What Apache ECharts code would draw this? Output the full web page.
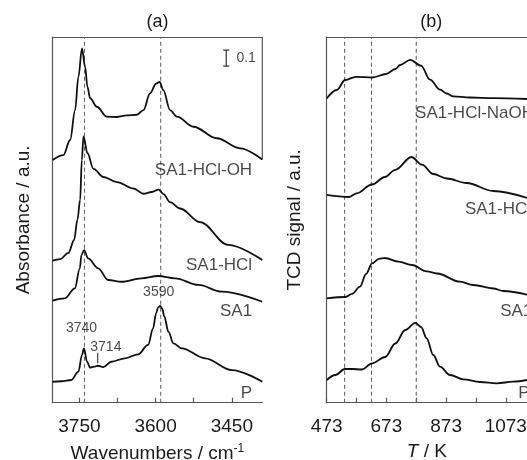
<!DOCTYPE html>
<html>
<head>
<meta charset="utf-8">
<script src="https://cdn.jsdelivr.net/npm/echarts@6/dist/echarts.min.js"></script>
<style>
html, body { margin: 0; padding: 0; background: #fff; }
#chart { width: 527px; height: 460px; }
</style>
</head>
<body>
<div id="chart"></div>
<script>
// ---------- (a) IR spectra: [wavenumber / cm-1, absorbance incl. vertical offset] ----------
const irSA1HClOH = [
  [3803, 1.517], [3781.5, 1.548], [3768.3, 1.642], [3758.5, 1.829], [3752, 2.036],
  [3745, 2.214], [3738.8, 2.100], [3734.3, 1.975], [3728.9, 1.903], [3715.7, 1.850],
  [3696, 1.788], [3676, 1.786], [3657, 1.796], [3637, 1.800], [3624, 1.829],
  [3611, 1.934], [3599, 1.995], [3592, 2.006], [3585, 1.954], [3571.5, 1.829],
  [3558, 1.788], [3525.6, 1.725], [3479.5, 1.653], [3433.6, 1.590], [3390, 1.520]
];
const irSA1HCl = [
  [3803, 0.8875], [3788, 0.898], [3771.7, 0.936], [3760.4, 1.017], [3754, 1.142],
  [3748.6, 1.267], [3745.3, 1.517], [3742, 1.664], [3734.3, 1.561], [3722.4, 1.462],
  [3702.8, 1.411], [3676.4, 1.379], [3643.7, 1.339], [3624, 1.306], [3607.5, 1.317],
  [3594, 1.3325], [3584.6, 1.304], [3571.5, 1.254], [3551.8, 1.214], [3512.4, 1.129],
  [3457.3, 0.986], [3390, 0.892]
];
const irSA1 = [
  [3803, 0.6375], [3778.7, 0.6525], [3759, 0.715], [3749.2, 0.840], [3746, 0.923],
  [3740.7, 0.954], [3732.9, 0.9025], [3713.2, 0.840], [3693.5, 0.767], [3667.3, 0.756],
  [3628, 0.7775], [3595, 0.792], [3561.6, 0.7775], [3515.7, 0.736], [3469.7, 0.694],
  [3390, 0.631]
];
const irP = [
  [3803, 0.131], [3785, 0.134], [3766, 0.142], [3752, 0.194], [3745, 0.298],
  [3741, 0.340], [3735, 0.256], [3729, 0.219], [3721, 0.225], [3714, 0.231],
  [3703, 0.223], [3687, 0.256], [3660.6, 0.2775], [3634.4, 0.3025], [3614.8, 0.361],
  [3605, 0.465], [3599, 0.560], [3595, 0.596], [3591, 0.605], [3587, 0.588],
  [3583, 0.540], [3574.8, 0.444], [3565, 0.371], [3548.4, 0.340], [3502.6, 0.2775],
  [3450, 0.204], [3390, 0.131]
];
const irRange = [3390, 3803];
const irYMax = 2.286;
const irMajorTicks = [3750, 3600, 3450];
const irAllTicks = [3750, 3675, 3600, 3525, 3450];
const irMarkers = [3740, 3590];
const irLabelText = ['SA1-HCl-OH', 'SA1-HCl', 'SA1', 'P'];
const irLabelY = [1.45, 0.856, 0.569, 0.059];
const irLabelX = 3410;
const peakText = ['3740', '3714', '3590'];
const peakX = [3746, 3698, 3594];
const peakY = [0.465, 0.35, 0.694];
const band3714 = [[3714, 0.246], [3714, 0.3125]];
const scaleBarX = 3461;
const scaleBarTop = 2.204;
const scaleBarSize = 0.1;

// ---------- (b) TPD profiles: [T / K, TCD signal incl. vertical offset] ----------
const tpdSA1HClNaOH = [
  [473, 8.318], [506.5, 8.551], [535, 8.824], [571, 8.912], [626, 8.893],
  [672, 8.988], [703, 9.125], [719, 9.234], [753, 9.377], [789, 9.215],
  [819, 8.832], [853, 8.559], [875, 8.455], [897, 8.378], [953, 8.346],
  [1031, 8.327], [1144, 8.305]
];
const tpdSA1HCl = [
  [473, 5.680], [546.7, 5.625], [573.5, 5.726], [624.8, 5.967], [668, 6.172],
  [702.8, 6.369], [757, 6.719], [792, 6.508], [830, 6.254], [875, 6.131],
  [942, 6.008], [1031, 5.789], [1144, 5.600]
];
const tpdSA1 = [
  [473, 2.855], [535, 2.890], [558, 2.978], [584.6, 3.172], [604.7, 3.519],
  [625, 3.812], [648, 3.935], [668, 3.957], [714, 3.856], [759, 3.765],
  [808, 3.593], [842.5, 3.533], [919.6, 3.309], [964, 3.219], [1031, 3.123],
  [1065, 3.054], [1144, 2.955]
];
const tpdP = [
  [473, 0.621], [502, 0.757], [534, 0.922], [558, 0.922], [591, 0.908],
  [625, 1.077], [669, 1.250], [703, 1.619], [736, 1.988], [770, 2.185],
  [789, 2.070], [808, 1.761], [830, 1.304], [852.6, 0.984], [886, 0.757],
  [930.6, 0.640], [986.6, 0.566], [1042.5, 0.530], [1098, 0.574], [1144, 0.621]
];
const tpdRange = [473, 1144];
const tpdYMax = 10;
const tpdMajorTicks = [473, 673, 873, 1073];
const tpdAllTicks = [473, 573, 673, 773, 873, 973, 1073];
const tpdMarkers = [533, 623, 773];
const tpdLabelText = ['SA1-HCl-NaOH', 'SA1-HCl', 'SA1', 'P'];
const tpdLabelX = [769, 936, 1054, 1115];
const tpdLabelY = [7.922, 5.278, 2.488, 0.257];

// ---------- styling ----------
const FONT = 'Liberation Sans, Arial, Helvetica, sans-serif';
const FRAME = '#555';
const INK = '#111';
const TEXT = '#1a1a1a';
const AXIS_FS = 19;
const LABEL_FS = 17;

function curve(data, gi) {
  return {
    type: 'line', xAxisIndex: gi * 2, yAxisIndex: gi, data: data,
    showSymbol: false, smooth: 0.35, smoothMonotone: 'x',
    lineStyle: { color: INK, width: 1.8 }, z: 5, silent: true
  };
}
function marker(x, gi, ymax) {
  return {
    type: 'line', xAxisIndex: gi * 2, yAxisIndex: gi,
    data: [[x, 0], [x, ymax]], showSymbol: false,
    lineStyle: { color: '#666', width: 1.1, type: [4, 3] }, z: 2, silent: true
  };
}
function texts(xs, ys, strs, gi, align, size) {
  return {
    type: 'scatter', xAxisIndex: gi * 2, yAxisIndex: gi, symbolSize: 0, silent: true, z: 6,
    clip: false,
    data: strs.map((s, i) => ({
      value: [Array.isArray(xs) ? xs[i] : xs, ys[i]],
      label: { formatter: s }
    })),
    label: {
      show: true, position: 'inside', align: align, verticalAlign: 'middle',
      fontFamily: FONT, fontSize: size, color: TEXT
    }
  };
}
function bottomAxis(gi, range, inverse, ticks, labels, name, nameRich) {
  return {
    type: 'value', gridIndex: gi, position: 'bottom', min: range[0], max: range[1], inverse: inverse,
    axisLine: { show: true, onZero: false, lineStyle: { color: FRAME, width: 1.2 } },
    axisTick: { show: true, inside: true, length: 5, customValues: ticks, lineStyle: { color: FRAME, width: 1.2 } },
    axisLabel: { customValues: labels, formatter: v => String(v), fontFamily: FONT, fontSize: AXIS_FS, color: TEXT, margin: 15 },
    splitLine: { show: false },
    name: name, nameLocation: 'middle', nameGap: 40,
    nameTextStyle: { fontFamily: FONT, fontSize: AXIS_FS, color: TEXT, rich: nameRich }
  };
}
function topAxis(gi, range, inverse) {
  return {
    type: 'value', gridIndex: gi, position: 'top', min: range[0], max: range[1], inverse: inverse,
    axisLine: { show: true, onZero: false, lineStyle: { color: FRAME, width: 1.2 } },
    axisTick: { show: false }, axisLabel: { show: false }, splitLine: { show: false }
  };
}
function leftAxis(gi, ymax, name, gap) {
  return {
    type: 'value', gridIndex: gi, min: 0, max: ymax,
    axisLine: { show: true, onZero: false, lineStyle: { color: FRAME, width: 1.2 } },
    axisTick: { show: false }, axisLabel: { show: false }, splitLine: { show: false },
    name: name, nameLocation: 'middle', nameGap: gap,
    nameTextStyle: { fontFamily: FONT, fontSize: AXIS_FS, color: TEXT }
  };
}

const series = [];
irMarkers.forEach(x => series.push(marker(x, 0, irYMax)));
tpdMarkers.forEach(x => series.push(marker(x, 1, tpdYMax)));
[irSA1HClOH, irSA1HCl, irSA1, irP].forEach(d => series.push(curve(d, 0)));
[tpdSA1HClNaOH, tpdSA1HCl, tpdSA1, tpdP].forEach(d => series.push(curve(d, 1)));

// right frame edge of panel (a), from the top down to the upper spectrum
series.push({
  type: 'line', xAxisIndex: 0, yAxisIndex: 0, showSymbol: false, silent: true, z: 3,
  data: [[irRange[0], irYMax], [irRange[0], irSA1HClOH[irSA1HClOH.length - 1][1]]],
  lineStyle: { color: FRAME, width: 1.2 }
});
// 0.1 absorbance scale bar
const cap = 6;
series.push({
  type: 'line', xAxisIndex: 0, yAxisIndex: 0, showSymbol: false, silent: true, z: 5,
  data: [
    [scaleBarX - cap, scaleBarTop], [scaleBarX + cap, scaleBarTop], [scaleBarX, scaleBarTop],
    [scaleBarX, scaleBarTop - scaleBarSize], [scaleBarX - cap, scaleBarTop - scaleBarSize],
    [scaleBarX + cap, scaleBarTop - scaleBarSize]
  ],
  lineStyle: { color: '#333', width: 1.2 }
});
series.push(texts([scaleBarX - 20], [scaleBarTop - scaleBarSize / 2], ['0.1'], 0, 'left', 14));
// 3714 band marker
series.push({
  type: 'line', xAxisIndex: 0, yAxisIndex: 0, showSymbol: false, silent: true, z: 5,
  data: band3714, lineStyle: { color: '#333', width: 1.1 }
});
series.push(texts(peakX, peakY, peakText, 0, 'center', 14));
series.push(texts(irLabelX, irLabelY, irLabelText, 0, 'right', LABEL_FS));
series.push(texts(tpdLabelX, tpdLabelY, tpdLabelText, 1, 'left', LABEL_FS));

const option = {
  animation: false,
  backgroundColor: '#fff',
  textStyle: { fontFamily: FONT },
  grid: [
    { left: 52.5, top: 37, width: 209.8, bottom: 57.3, outerBoundsMode: 'none', containLabel: false },
    { left: 326.7, top: 37, right: 0, bottom: 57.3, outerBoundsMode: 'none', containLabel: false }
  ],
  xAxis: [
    bottomAxis(0, irRange, true, irAllTicks, irMajorTicks,
      '{n|Wavenumbers / cm}{s|-1}',
      { n: { fontFamily: FONT, fontSize: AXIS_FS, color: TEXT },
        s: { fontFamily: FONT, fontSize: 12, color: TEXT, padding: [0, 0, 10, 0] } }),
    topAxis(0, irRange, true),
    bottomAxis(1, tpdRange, false, tpdAllTicks, tpdMajorTicks,
      '{i|T}{n| / K}',
      { i: { fontFamily: FONT, fontSize: AXIS_FS, fontStyle: 'italic', color: TEXT },
        n: { fontFamily: FONT, fontSize: AXIS_FS, color: TEXT } }),
    topAxis(1, tpdRange, false)
  ],
  yAxis: [
    leftAxis(0, irYMax, 'Absorbance / a.u.', 19),
    leftAxis(1, tpdYMax, 'TCD signal / a.u.', 22)
  ],
  graphic: [
    { type: 'text', x: 157.5, y: 22.5, style: { text: '(a)', fontFamily: FONT, fontSize: 18, fill: TEXT, align: 'center', verticalAlign: 'middle' } },
    { type: 'text', x: 431.3, y: 22.5, style: { text: '(b)', fontFamily: FONT, fontSize: 18, fill: TEXT, align: 'center', verticalAlign: 'middle' } }
  ],
  series: series
};

const chart = echarts.init(document.getElementById('chart'), null, { renderer: 'canvas' });
chart.setOption(option);
</script>
</body>
</html>
